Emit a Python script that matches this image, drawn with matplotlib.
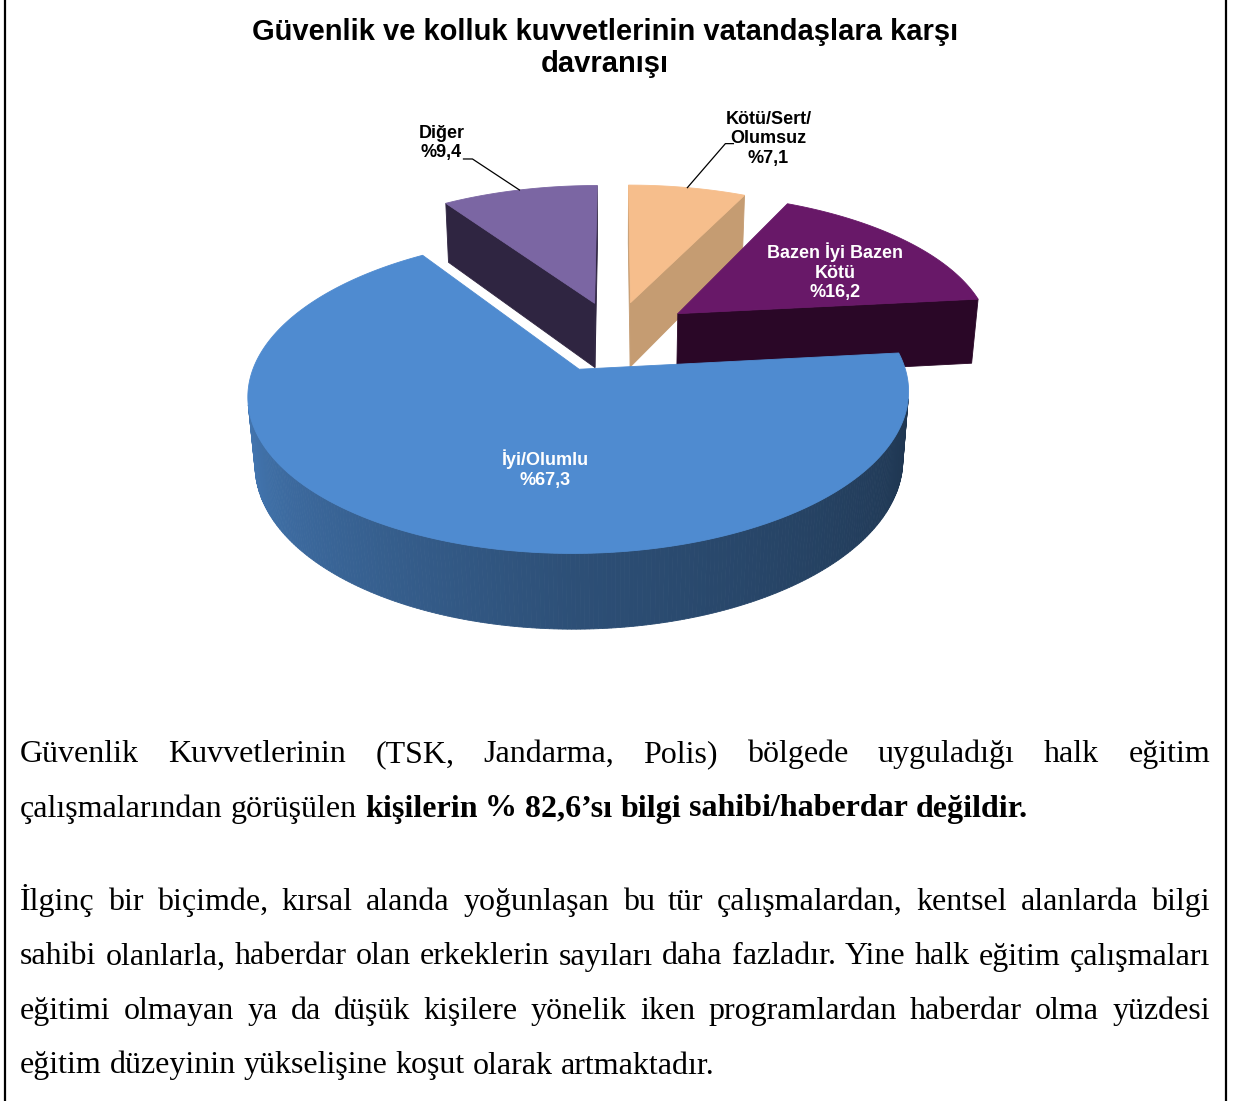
import numpy as np
import matplotlib
matplotlib.use("Agg")
import matplotlib.pyplot as plt
from matplotlib.patches import Polygon
from matplotlib.colors import to_rgb

plt.rcParams['font.family'] = ['Liberation Sans', 'DejaVu Sans']

# values (clockwise from 12 o'clock)
slice_names = ["Kötü/Sert/\nOlumsuz", "Bazen İyi Bazen\nKötü", "İyi/Olumlu", "Diğer"]
slice_values = [7.1, 16.2, 67.3, 9.4]
top_colors = ["#F6BE8C", "#681868", "#4F8BD0", "#7B66A3"]
cut_colors = ["#C59C72", "#2A0727", "#2B4E80", "#2F2541"]
inside_label = [False, True, True, False]

chart_title = "Güvenlik ve kolluk kuvvetlerinin vatandaşlara karşı\ndavranışı"

# text under the chart: paragraphs -> lines -> (segment, bold)
paragraphs = [
    [[("Güvenlik Kuvvetlerinin (TSK, Jandarma, Polis) bölgede uyguladığı halk eğitim", False)],
     [("çalışmalarından görüşülen", False),
      ("kişilerin % 82,6’sı bilgi sahibi/haberdar değildir.", True)]],
    [[("İlginç bir biçimde, kırsal alanda yoğunlaşan bu tür çalışmalardan, kentsel alanlarda bilgi", False)],
     [("sahibi olanlarla, haberdar olan erkeklerin sayıları daha fazladır. Yine halk eğitim çalışmaları", False)],
     [("eğitimi olmayan ya da düşük kişilere yönelik iken programlardan haberdar olma yüzdesi", False)],
     [("eğitim düzeyinin yükselişine koşut olarak artmaktadır.", False)]],
]

# 3d pie view settings (pixels)
ELEV = 27.3
CAM = 5.85
FOCAL = 1840
X0, Y0 = 615, 334
DEPTH = 0.24
EXPLODE = [0.23, 0.25, 0.26, 0.23]
# inside labels: (radius, angle offset from mid angle)
inside_pos = {1: (0.63, 5.0), 2: (0.59, -16.7)}
# outside labels: elbow, line end, text centre (pixel offsets from arc point)
leader_pos = {0: ((38, -44), (46, -44), (81, -49)),
              3: ((-47, -31), (-56, -31), (-78, -47))}

S, C = np.sin(np.radians(ELEV)), np.cos(np.radians(ELEV))
cam_xyz = np.array([0, -CAM * C, CAM * S])


def proj(X, Y, Z):
    X, Y, Z = np.asarray(X, float), np.asarray(Y, float), np.asarray(Z, float)
    v = Z * C + Y * S
    w = Y * C - Z * S
    k = FOCAL / (CAM + w)
    return X0 + X * k, Y0 - v * k, w


fig = plt.figure(figsize=(12.34, 11.01), dpi=100)
ax = fig.add_axes([0, 0, 1, 1])
ax.set_xlim(0, 1234)
ax.set_ylim(1101, 0)
ax.axis('off')

# frame lines left/right
ax.plot([5, 5], [0, 1101], color='black', lw=1.6)
ax.plot([1226, 1226], [0, 1101], color='black', lw=1.6)

ax.text(605, 48, chart_title, ha='center', va='center', fontsize=21,
        fontweight='bold', linespacing=1.2)

total = sum(slice_values)
bounds = np.concatenate([[0], np.cumsum(slice_values)]) / total * 360

slices = []
for i in range(len(slice_values)):
    t1, t2 = bounds[i], bounds[i + 1]
    mid = (t1 + t2) / 2
    ox = EXPLODE[i] * np.sin(np.radians(mid))
    oy = EXPLODE[i] * np.cos(np.radians(mid))
    n = max(8, int((t2 - t1) * 1.5))
    th = np.radians(np.linspace(t1, t2, n))
    px, py = ox + np.sin(th), oy + np.cos(th)
    base = np.array(to_rgb(top_colors[i]))
    faces = []
    # outer curved wall
    for j in range(n - 1):
        tm = (th[j] + th[j + 1]) / 2
        nrm = np.array([np.sin(tm), np.cos(tm), 0])
        ctr = np.array([(px[j] + px[j + 1]) / 2, (py[j] + py[j + 1]) / 2, -DEPTH / 2])
        if nrm @ (cam_xyz - ctr) <= 0:
            continue
        xs, ys, ws = proj([px[j], px[j + 1], px[j + 1], px[j]],
                          [py[j], py[j + 1], py[j + 1], py[j]],
                          [0, 0, -DEPTH, -DEPTH])
        shade = np.interp(np.degrees(tm), [90, 180, 270], [0.36, 0.57, 0.9])
        faces.append((ws.mean(), np.column_stack([xs, ys]), np.clip(base * shade, 0, 1)))
    # radial cut walls
    for tt, nrm2 in ((th[0], (-np.cos(th[0]), np.sin(th[0]))),
                     (th[-1], (np.cos(th[-1]), -np.sin(th[-1])))):
        ex, ey = ox + np.sin(tt), oy + np.cos(tt)
        nrm = np.array([nrm2[0], nrm2[1], 0])
        ctr = np.array([(ox + ex) / 2, (oy + ey) / 2, -DEPTH / 2])
        if nrm @ (cam_xyz - ctr) <= 0:
            continue
        xs, ys, ws = proj([ox, ex, ex, ox], [oy, ey, ey, oy], [0, 0, -DEPTH, -DEPTH])
        faces.append((ws.mean(), np.column_stack([xs, ys]), cut_colors[i]))
    # top
    tx, ty, _ = proj(np.r_[ox, px], np.r_[oy, py], np.zeros(n + 1))
    _, _, wc = proj(ox, oy, 0)
    slices.append((float(wc), faces, np.column_stack([tx, ty]), base))

for wc, faces, top, base in sorted(slices, key=lambda s: -s[0]):
    for _, xy, col in sorted(faces, key=lambda f: -f[0]):
        ax.add_patch(Polygon(xy, closed=True, facecolor=col, edgecolor=col, lw=0.6))
    ax.add_patch(Polygon(top, closed=True, facecolor=base, edgecolor=base, lw=0.6))

# data labels
for i, name in enumerate(slice_names):
    t1, t2 = bounds[i], bounds[i + 1]
    mid = (t1 + t2) / 2
    ox = EXPLODE[i] * np.sin(np.radians(mid))
    oy = EXPLODE[i] * np.cos(np.radians(mid))
    txt = name + "\n%" + f"{slice_values[i]:.1f}".replace(".", ",")
    if inside_label[i]:
        r, da = inside_pos[i]
        a = np.radians(mid + da)
        lx, ly, _ = proj(ox + r * np.sin(a), oy + r * np.cos(a), 0)
        ax.text(lx, ly, txt, ha='center', va='center', fontsize=13,
                fontweight='bold', color='white', linespacing=1.2)
    else:
        a = np.radians(mid)
        axp, ayp, _ = proj(ox + np.sin(a), oy + np.cos(a), 0)
        elb, end, tc = leader_pos[i]
        ax.plot([axp, axp + elb[0], axp + end[0]], [ayp, ayp + elb[1], ayp + end[1]],
                color='black', lw=0.9)
        ax.text(axp + tc[0], ayp + tc[1], txt, ha='center', va='center', fontsize=13,
                fontweight='bold', color='black', linespacing=1.2)

# body text, justified like the source document
BODY_SIZE = 23
LEFT, RIGHT = 20, 1210
renderer = fig.canvas.get_renderer()


def width_of(s, bold):
    t = ax.text(0, 0, s, fontsize=BODY_SIZE, family='Liberation Serif',
                fontweight='bold' if bold else 'normal')
    w = t.get_window_extent(renderer).width
    t.remove()
    return w


space_w = width_of("x x", False) - width_of("xx", False)
para_start = [762, 910]
LINE_STEP = 54.5
for p, lines in enumerate(paragraphs):
    for k, line in enumerate(lines):
        y = para_start[p] + k * LINE_STEP
        words = [(wd, b) for seg, b in line for wd in seg.split()]
        widths = [width_of(wd, b) for wd, b in words]
        last = k == len(lines) - 1
        gap = space_w if last else (RIGHT - LEFT - sum(widths)) / (len(words) - 1)
        x = LEFT
        for (wd, b), wdt in zip(words, widths):
            ax.text(x, y, wd, fontsize=BODY_SIZE, family='Liberation Serif',
                    fontweight='bold' if b else 'normal', va='baseline', ha='left')
            x += wdt + gap

fig.savefig("out.png", dpi=100)
